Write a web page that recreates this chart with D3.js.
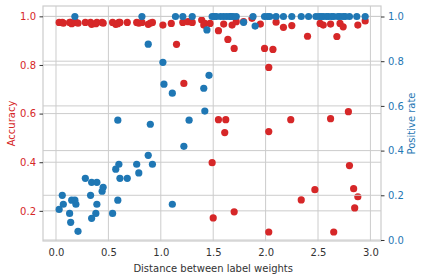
<!DOCTYPE html>
<html>
<head>
<meta charset="utf-8">
<script src="https://cdn.jsdelivr.net/npm/d3@7"></script>
<style>
  body { margin: 0; background: #fff; }
  svg { display: block; font-family: "DejaVu Sans", sans-serif; }
</style>
</head>
<body>
<div id="chart"></div>
<script>
// Accuracy (left axis, red) and positive rate (right axis, blue) vs distance

const accX = [0.03, 0.06, 0.07, 0.13, 0.14, 0.15, 0.18, 0.19, 0.21, 0.28, 0.33, 0.34, 0.38, 0.39, 0.44,
  0.45, 0.54, 0.57, 0.59, 0.60, 0.61, 0.68, 0.77, 0.79, 0.82, 0.88, 0.90, 0.92, 1.02, 1.10,
  1.15, 1.21, 1.22, 1.26, 1.30, 1.39, 1.41, 1.42, 1.47, 1.55, 1.60, 1.64, 1.68, 1.70, 1.72,
  1.79, 1.87, 1.95, 1.99, 2.03, 2.07, 2.10, 2.17, 2.25, 2.40, 2.52, 2.55, 2.62, 2.68, 2.71,
  2.74, 2.88, 2.95,
  1.55, 1.62, 2.24, 2.62, 2.79, 1.61, 2.03, 1.49, 2.80, 2.47, 2.84, 2.34, 2.88, 1.70, 2.85,
  1.50, 2.03, 2.65];
const accY = [0.975, 0.975, 0.972, 0.975, 0.975, 0.970, 0.975, 0.975, 0.972, 0.975, 0.975, 0.967, 0.970, 0.975, 0.975,
  0.972, 0.975, 0.967, 0.970, 0.975, 0.975, 0.975, 0.975, 0.972, 0.975, 0.967, 0.972, 0.975, 0.964, 0.971,
  0.885, 0.975, 0.724, 0.978, 0.975, 0.985, 0.964, 0.971, 0.971, 0.941, 0.968, 0.905, 0.964, 0.868, 0.978,
  0.978, 0.992, 0.968, 0.868, 0.790, 0.864, 0.976, 0.955, 0.962, 0.918, 0.971, 0.964, 0.968, 0.917, 0.971,
  0.957, 0.964, 0.981,
  0.575, 0.575, 0.575, 0.579, 0.608, 0.522, 0.526, 0.398, 0.386, 0.287, 0.291, 0.245, 0.258, 0.196, 0.212,
  0.171, 0.113, 0.113];

const posX = [1.22, 0.88, 0.60, 0.57, 0.77, 0.92, 0.79, 0.28, 0.34, 0.39, 0.61, 0.68, 0.45, 0.44, 0.06,
  0.33, 0.15, 0.18, 0.59, 0.07, 0.19, 0.39, 1.11, 0.03, 0.13, 0.38, 0.54, 0.34, 0.14, 0.21,
  0.88, 1.02, 1.46, 1.03, 1.41, 1.11, 1.42, 0.59, 0.90, 1.27, 1.44, 1.79, 1.90,
  0.18, 0.82, 1.14, 1.21, 1.30, 1.49, 1.51, 1.53, 1.57, 1.60, 1.63, 1.66, 1.67, 1.69, 1.72,
  1.88, 1.99, 2.02, 2.04, 2.10, 2.17, 2.25, 2.34, 2.41, 2.48, 2.51, 2.53, 2.55, 2.58, 2.60,
  2.63, 2.65, 2.69, 2.71, 2.74, 2.76, 2.80, 2.87, 2.95];
const posY = [0.419, 0.379, 0.339, 0.317, 0.339, 0.339, 0.300, 0.276, 0.258, 0.258, 0.276, 0.276, 0.236, 0.218, 0.200,
  0.200, 0.178, 0.178, 0.178, 0.160, 0.160, 0.160, 0.160, 0.137, 0.119, 0.119, 0.119, 0.097, 0.079, 0.039,
  0.876, 0.795, 0.737, 0.697, 0.679, 0.657, 0.577, 0.536, 0.518, 0.536, 0.940, 0.974, 0.957,
  1, 1, 1, 1, 1, 1, 1, 1, 1, 1, 1, 1, 1, 1, 1,
  1, 1, 1, 1, 1, 1, 1, 1, 1, 1, 1, 1, 1, 1, 1,
  1, 1, 1, 1, 1, 1, 1, 1, 1];

const xTicks = [0, 0.5, 1, 1.5, 2, 2.5, 3];
const accTicks = [0.2, 0.4, 0.6, 0.8, 1.0];
const posTicks = [0, 0.2, 0.4, 0.6, 0.8, 1.0];

const red = '#d62728', blue = '#1f77b4', gridColor = '#cccccc';
const width = 424, height = 280;
const margin = { top: 6, right: 43, bottom: 39, left: 43 };
const plotW = width - margin.left - margin.right;
const plotH = height - margin.top - margin.bottom;

const svg = d3.select('#chart').append('svg')
  .attr('width', width)
  .attr('height', height);

const g = svg.append('g')
  .attr('transform', `translate(${margin.left},${margin.top})`);

const x = d3.scaleLinear().domain([-0.124, 3.101]).range([0, plotW]);
const yAcc = d3.scaleLinear().domain([0.076, 1.0425]).range([plotH, 0]);
const yPos = d3.scaleLinear().domain([-0.0045, 1.047]).range([plotH, 0]);

// grid lines
g.append('g').selectAll('line').data(xTicks).enter().append('line')
  .attr('x1', d => x(d)).attr('x2', d => x(d))
  .attr('y1', 0).attr('y2', plotH)
  .attr('stroke', gridColor).attr('stroke-width', 1);
g.append('g').selectAll('line').data(accTicks).enter().append('line')
  .attr('x1', 0).attr('x2', plotW)
  .attr('y1', d => yAcc(d)).attr('y2', d => yAcc(d))
  .attr('stroke', gridColor).attr('stroke-width', 1);

// accuracy points
g.append('g').selectAll('circle').data(accX).enter().append('circle')
  .attr('cx', d => x(d))
  .attr('cy', (d, i) => yAcc(accY[i]))
  .attr('r', 3.6)
  .attr('fill', red);

g.append('g').selectAll('line').data(posTicks).enter().append('line')
  .attr('x1', 0).attr('x2', plotW)
  .attr('y1', d => yPos(d)).attr('y2', d => yPos(d))
  .attr('stroke', gridColor).attr('stroke-width', 1);

// positive rate points
g.append('g').selectAll('circle').data(posX).enter().append('circle')
  .attr('cx', d => x(d))
  .attr('cy', (d, i) => yPos(posY[i]))
  .attr('r', 3.6)
  .attr('fill', blue);

// frame
g.append('rect')
  .attr('width', plotW).attr('height', plotH)
  .attr('fill', 'none').attr('stroke', gridColor).attr('stroke-width', 1.2);

// axes
const xAxis = g.append('g')
  .attr('transform', `translate(0,${plotH})`)
  .call(d3.axisBottom(x).tickValues(xTicks).tickFormat(d3.format('.1f')).tickSize(0).tickPadding(8));
const leftAxis = g.append('g')
  .call(d3.axisLeft(yAcc).tickValues(accTicks).tickFormat(d3.format('.1f')).tickSize(3.5).tickPadding(3.5));
const rightAxis = g.append('g')
  .attr('transform', `translate(${plotW},0)`)
  .call(d3.axisRight(yPos).tickValues(posTicks).tickFormat(d3.format('.1f')).tickSize(3.5).tickPadding(3.5));

[xAxis, leftAxis, rightAxis].forEach(a => {
  a.select('.domain').remove();
  a.selectAll('text').style('font-size', '10px').style('font-family', '"DejaVu Sans", sans-serif');
});
xAxis.selectAll('text').attr('fill', '#333');
leftAxis.selectAll('line').attr('stroke', '#333');
leftAxis.selectAll('text').attr('fill', red);
rightAxis.selectAll('line').attr('stroke', '#333');
rightAxis.selectAll('text').attr('fill', blue);

// axis labels
svg.append('text')
  .attr('x', margin.left + x(1.5))
  .attr('y', 272)
  .attr('text-anchor', 'middle')
  .style('font-size', '10px')
  .attr('fill', '#333')
  .text('Distance between label weights');

svg.append('text')
  .attr('transform', `translate(15,${margin.top + plotH / 2}) rotate(-90)`)
  .attr('text-anchor', 'middle')
  .style('font-size', '10px')
  .attr('fill', red)
  .text('Accuracy');

svg.append('text')
  .attr('transform', `translate(415,${margin.top + plotH / 2}) rotate(-90)`)
  .attr('text-anchor', 'middle')
  .style('font-size', '10px')
  .attr('fill', blue)
  .text('Positive rate');
</script>
</body>
</html>
